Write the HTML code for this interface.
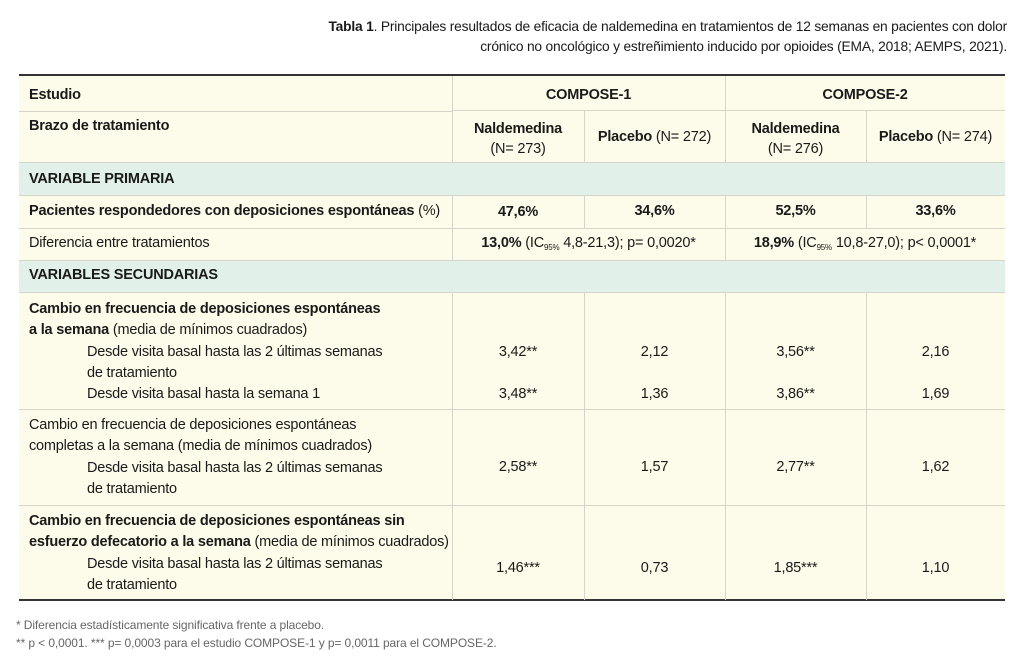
<!DOCTYPE html>
<html><head><meta charset="utf-8">
<style>
body{margin:0;width:1024px;height:661px;background:#fff;position:relative;overflow:hidden;font-family:"Liberation Sans",sans-serif;color:#1a1a1a}
.a{position:absolute;white-space:nowrap}
.t{font-size:14.5px;letter-spacing:-0.2px}
.b{font-weight:bold}
.c{text-align:center}
.bg{position:absolute;left:19px;width:986px}
.hl{position:absolute;left:19px;width:986px;height:1px;background:#d6d5cc}
.vl{position:absolute;width:1px;background:#d6d5cc}
sub{font-size:8px;vertical-align:-3px}
</style></head><body>
<div class="a" style="right:17px;top:17px;text-align:right;font-size:13.8px;letter-spacing:-0.2px;line-height:20px"><b>Tabla 1</b>. Principales resultados de eficacia de naldemedina en tratamientos de 12 semanas en pacientes con dolor<br>crónico no oncológico y estreñimiento inducido por opioides (EMA, 2018; AEMPS, 2021).</div>

<div class="bg" style="top:75px;height:88px;background:#fdfbea"></div>
<div class="bg" style="top:163px;height:33px;background:#e1f1ea"></div>
<div class="bg" style="top:196px;height:64px;background:#fdfbea"></div>
<div class="bg" style="top:260px;height:32px;background:#e1f1ea"></div>
<div class="bg" style="top:292px;height:308px;background:#fdfbea"></div>

<div class="hl" style="top:74px;height:2px;background:#333"></div>
<div class="hl" style="top:599px;height:2px;background:#333"></div>
<div class="hl" style="top:110px;left:452px;width:553px"></div>
<div class="hl" style="top:111px;width:433px;"></div>
<div class="hl" style="top:162px"></div>
<div class="hl" style="top:195px"></div>
<div class="hl" style="top:228px"></div>
<div class="hl" style="top:260px"></div>
<div class="hl" style="top:292px"></div>
<div class="hl" style="top:409px"></div>
<div class="hl" style="top:505px"></div>
<div class="vl" style="left:452px;top:76px;height:87px"></div>
<div class="vl" style="left:725px;top:76px;height:87px"></div>
<div class="vl" style="left:584px;top:111px;height:52px"></div>
<div class="vl" style="left:866px;top:111px;height:52px"></div>
<div class="vl" style="left:452px;top:196px;height:64px"></div>
<div class="vl" style="left:725px;top:196px;height:64px"></div>
<div class="vl" style="left:584px;top:196px;height:32px"></div>
<div class="vl" style="left:866px;top:196px;height:32px"></div>
<div class="vl" style="left:452px;top:292px;height:308px"></div>
<div class="vl" style="left:584px;top:292px;height:308px"></div>
<div class="vl" style="left:725px;top:292px;height:308px"></div>
<div class="vl" style="left:866px;top:292px;height:308px"></div>

<div class="a t b" style="left:29px;top:87px">Estudio</div>
<div class="a t b c" style="left:452px;width:273px;top:87px">COMPOSE-1</div>
<div class="a t b c" style="left:725px;width:280px;top:87px">COMPOSE-2</div>
<div class="a t b" style="left:29px;top:118px">Brazo de tratamiento</div>
<div class="a t c" style="left:452px;width:132px;top:119px;line-height:20px"><b>Naldemedina</b><br>(N= 273)</div>
<div class="a t c" style="left:584px;width:141px;top:129px"><b>Placebo</b> (N= 272)</div>
<div class="a t c" style="left:725px;width:141px;top:119px;line-height:20px"><b>Naldemedina</b><br>(N= 276)</div>
<div class="a t c" style="left:866px;width:139px;top:129px"><b>Placebo</b> (N= 274)</div>

<div class="a t b" style="left:29px;top:171px">VARIABLE PRIMARIA</div>
<div class="a t" style="left:29px;top:203px"><b>Pacientes respondedores con deposiciones espontáneas</b> (%)</div>
<div class="a t b c" style="left:452px;width:132px;top:204px">47,6%</div>
<div class="a t b c" style="left:584px;width:141px;top:203px">34,6%</div>
<div class="a t b c" style="left:725px;width:141px;top:203px">52,5%</div>
<div class="a t b c" style="left:866px;width:139px;top:203px">33,6%</div>
<div class="a t" style="left:29px;top:235px">Diferencia entre tratamientos</div>
<div class="a t c" style="left:452px;width:273px;top:235px"><b>13,0%</b> (IC<sub>95%</sub> 4,8-21,3); p= 0,0020*</div>
<div class="a t c" style="left:725px;width:280px;top:235px"><b>18,9%</b> (IC<sub>95%</sub> 10,8-27,0); p&lt; 0,0001*</div>
<div class="a t b" style="left:29px;top:267px">VARIABLES SECUNDARIAS</div>

<div class="a t" style="left:29px;top:299px;line-height:21.3px"><b>Cambio en frecuencia de deposiciones espontáneas</b><br><b>a la semana</b> (media de mínimos cuadrados)<br><span style="padding-left:58px">Desde visita basal hasta las 2 últimas semanas</span><br><span style="padding-left:58px">de tratamiento</span><br><span style="padding-left:58px">Desde visita basal hasta la semana 1</span></div>
<div class="a t c" style="left:452px;width:132px;top:344px">3,42**</div>
<div class="a t c" style="left:584px;width:141px;top:344px">2,12</div>
<div class="a t c" style="left:725px;width:141px;top:344px">3,56**</div>
<div class="a t c" style="left:866px;width:139px;top:344px">2,16</div>
<div class="a t c" style="left:452px;width:132px;top:386px">3,48**</div>
<div class="a t c" style="left:584px;width:141px;top:386px">1,36</div>
<div class="a t c" style="left:725px;width:141px;top:386px">3,86**</div>
<div class="a t c" style="left:866px;width:139px;top:386px">1,69</div>

<div class="a t" style="left:29px;top:415px;line-height:21.3px">Cambio en frecuencia de deposiciones espontáneas<br>completas a la semana (media de mínimos cuadrados)<br><span style="padding-left:58px">Desde visita basal hasta las 2 últimas semanas</span><br><span style="padding-left:58px">de tratamiento</span></div>
<div class="a t c" style="left:452px;width:132px;top:459px">2,58**</div>
<div class="a t c" style="left:584px;width:141px;top:459px">1,57</div>
<div class="a t c" style="left:725px;width:141px;top:459px">2,77**</div>
<div class="a t c" style="left:866px;width:139px;top:459px">1,62</div>

<div class="a t" style="left:29px;top:511px;line-height:21.3px"><b>Cambio en frecuencia de deposiciones espontáneas sin</b><br><b>esfuerzo defecatorio a la semana</b> (media de mínimos cuadrados)<br><span style="padding-left:58px">Desde visita basal hasta las 2 últimas semanas</span><br><span style="padding-left:58px">de tratamiento</span></div>
<div class="a t c" style="left:452px;width:132px;top:560px">1,46***</div>
<div class="a t c" style="left:584px;width:141px;top:560px">0,73</div>
<div class="a t c" style="left:725px;width:141px;top:560px">1,85***</div>
<div class="a t c" style="left:866px;width:139px;top:560px">1,10</div>

<div class="a" style="left:16px;top:616px;font-size:12px;color:#666;line-height:18px;letter-spacing:-0.1px">* Diferencia estadísticamente significativa frente a placebo.<br>** p &lt; 0,0001. *** p= 0,0003 para el estudio COMPOSE-1 y p= 0,0011 para el COMPOSE-2.</div>
</body></html>
